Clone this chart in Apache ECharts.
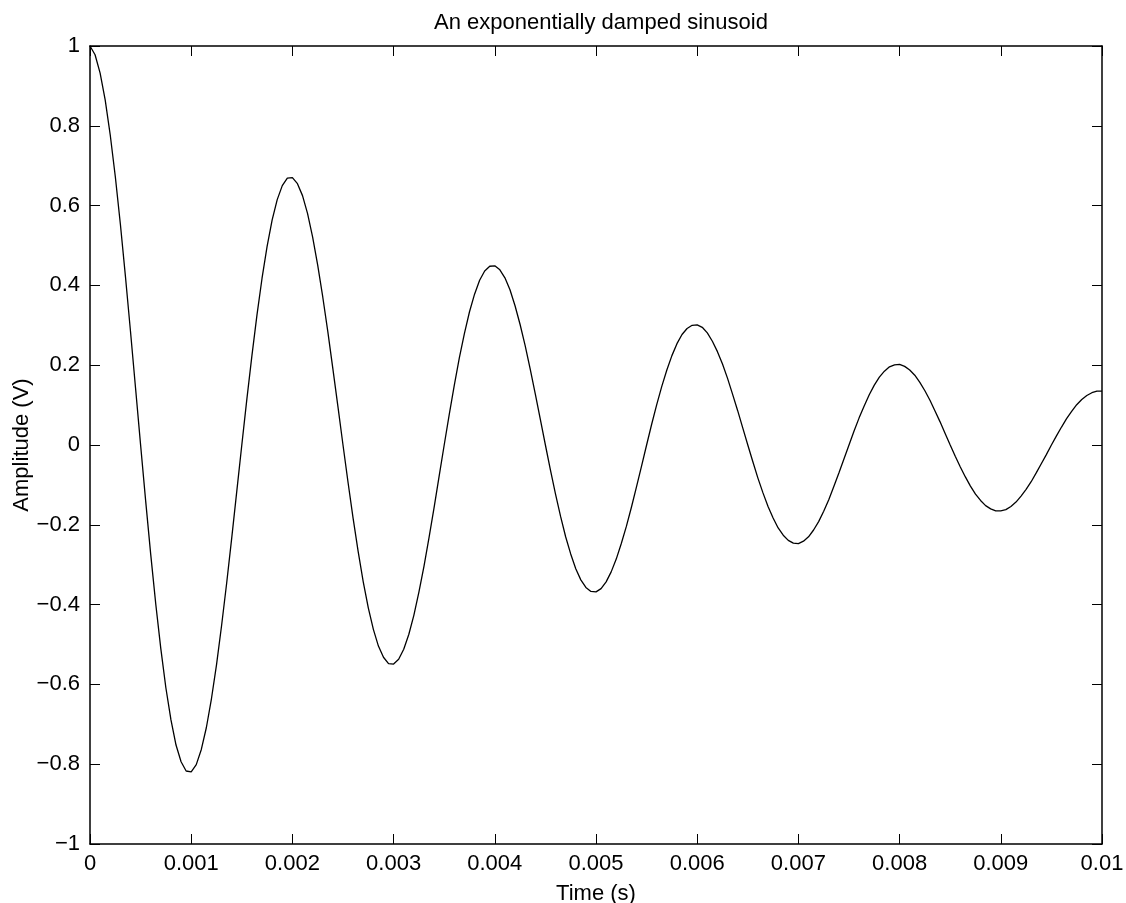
<!DOCTYPE html>
<html><head><meta charset="utf-8">
<script src="https://cdn.jsdelivr.net/npm/echarts@6/dist/echarts.min.js"></script>
<style>html,body{margin:0;padding:0;background:#fff}#c{width:1126px;height:903px}</style>
</head><body><div id="c"></div>
<script>
// time samples (s), step 0.00005
const timeStart = 0, timeStep = 0.00005;
// amplitude values (V)
const amplitude = [
 1.000,0.978,0.932,0.865,0.777,0.673,0.554,0.423,0.285,0.143,0.000,-0.140,-0.274,-0.399,-0.511,-0.609,-0.689,-0.752,-0.794,-0.817,
 -0.819,-0.801,-0.763,-0.708,-0.636,-0.551,-0.453,-0.347,-0.234,-0.117,0.000,0.115,0.224,0.326,0.418,0.498,0.564,0.615,0.650,0.669,
 0.670,0.655,0.625,0.580,0.521,0.451,0.371,0.284,0.191,0.096,0.000,-0.094,-0.184,-0.267,-0.343,-0.408,-0.462,-0.504,-0.532,-0.548,
 -0.549,-0.537,-0.512,-0.475,-0.427,-0.369,-0.304,-0.232,-0.157,-0.078,0.000,0.077,0.150,0.219,0.280,0.334,0.378,0.413,0.436,0.448,
 0.449,0.439,0.419,0.389,0.349,0.302,0.249,0.190,0.128,0.064,0.000,-0.063,-0.123,-0.179,-0.230,-0.273,-0.310,-0.338,-0.357,-0.367,
 -0.368,-0.360,-0.343,-0.318,-0.286,-0.247,-0.204,-0.156,-0.105,-0.053,0.000,0.052,0.101,0.147,0.188,0.224,0.254,0.277,0.292,0.300,
 0.301,0.295,0.281,0.260,0.234,0.203,0.167,0.127,0.086,0.043,0.000,-0.042,-0.083,-0.120,-0.154,-0.183,-0.208,-0.226,-0.239,-0.246,
 -0.247,-0.241,-0.230,-0.213,-0.192,-0.166,-0.137,-0.104,-0.070,-0.035,0.000,0.035,0.068,0.098,0.126,0.150,0.170,0.185,0.196,0.201,
 0.202,0.197,0.188,0.175,0.157,0.136,0.112,0.085,0.058,0.029,0.000,-0.028,-0.055,-0.080,-0.103,-0.123,-0.139,-0.152,-0.160,-0.165,
 -0.165,-0.162,-0.154,-0.143,-0.128,-0.111,-0.092,-0.070,-0.047,-0.024,0.000,0.023,0.045,0.066,0.084,0.101,0.114,0.124,0.131,0.135,
 0.135
];
const xTickLabels = ['0','0.001','0.002','0.003','0.004','0.005','0.006','0.007','0.008','0.009','0.01'];
const yTickLabels = {'-1':'\u22121','-0.8':'\u22120.8','-0.6':'\u22120.6','-0.4':'\u22120.4','-0.2':'\u22120.2','0':'0','0.2':'0.2','0.4':'0.4','0.6':'0.6','0.8':'0.8','1':'1'};
const titleText = 'An exponentially damped sinusoid';
const xName = 'Time (s)', yName = 'Amplitude (V)';

const points = amplitude.map((v,i)=>[+(timeStart + i*timeStep).toFixed(6), v]);
const font = 'Liberation Sans, Arial, Helvetica, sans-serif';
const fs = 22;
const lineStyle = {color:'#000', width:1.5};
const tickStyle = {show:true, inside:true, length:10, lineStyle:{color:'#000', width:1}};
const chart = echarts.init(document.getElementById('c'), null, {renderer:'canvas'});
const xBase = {type:'value', min:0, max:0.01, interval:0.001, splitLine:{show:false},
  axisLine:{show:true, onZero:false, lineStyle}, axisTick:tickStyle};
const yBase = {type:'value', min:-1, max:1, interval:0.2, splitLine:{show:false},
  axisLine:{show:true, onZero:false, lineStyle}, axisTick:tickStyle};
chart.setOption({
  animation:false,
  backgroundColor:'#fff',
  title:{text:titleText, left:596, textAlign:'center', top:7,
    textStyle:{fontFamily:font, fontSize:fs, fontWeight:'normal', color:'#000'}},
  grid:{left:90, right:24, top:46, bottom:59, containLabel:false, outerBoundsMode:'none'},
  xAxis:[
    Object.assign({}, xBase, {position:'bottom', name:xName, nameLocation:'middle', nameGap:39,
      nameMoveOverlap:false,
      nameTextStyle:{fontFamily:font, fontSize:fs, color:'#000'},
      axisLabel:{show:true, margin:9, fontFamily:font, fontSize:fs, color:'#000',
        formatter:(v)=>xTickLabels[Math.round(v/0.001)]}}),
    Object.assign({}, xBase, {position:'top', axisLabel:{show:false}})
  ],
  yAxis:[
    Object.assign({}, yBase, {position:'left', name:yName, nameLocation:'middle', nameGap:57,
      nameMoveOverlap:false,
      nameTextStyle:{fontFamily:font, fontSize:fs, color:'#000'},
      axisLabel:{show:true, margin:10, fontFamily:font, fontSize:fs, color:'#000',
        formatter:(v)=>yTickLabels[String(+v.toFixed(1))]}}),
    Object.assign({}, yBase, {position:'right', axisLabel:{show:false}})
  ],
  series:[{type:'line', data:points, xAxisIndex:0, yAxisIndex:0, showSymbol:false,
    smooth:false, lineStyle:{color:'#000', width:1.3}, clip:true}]
});
</script></body></html>
